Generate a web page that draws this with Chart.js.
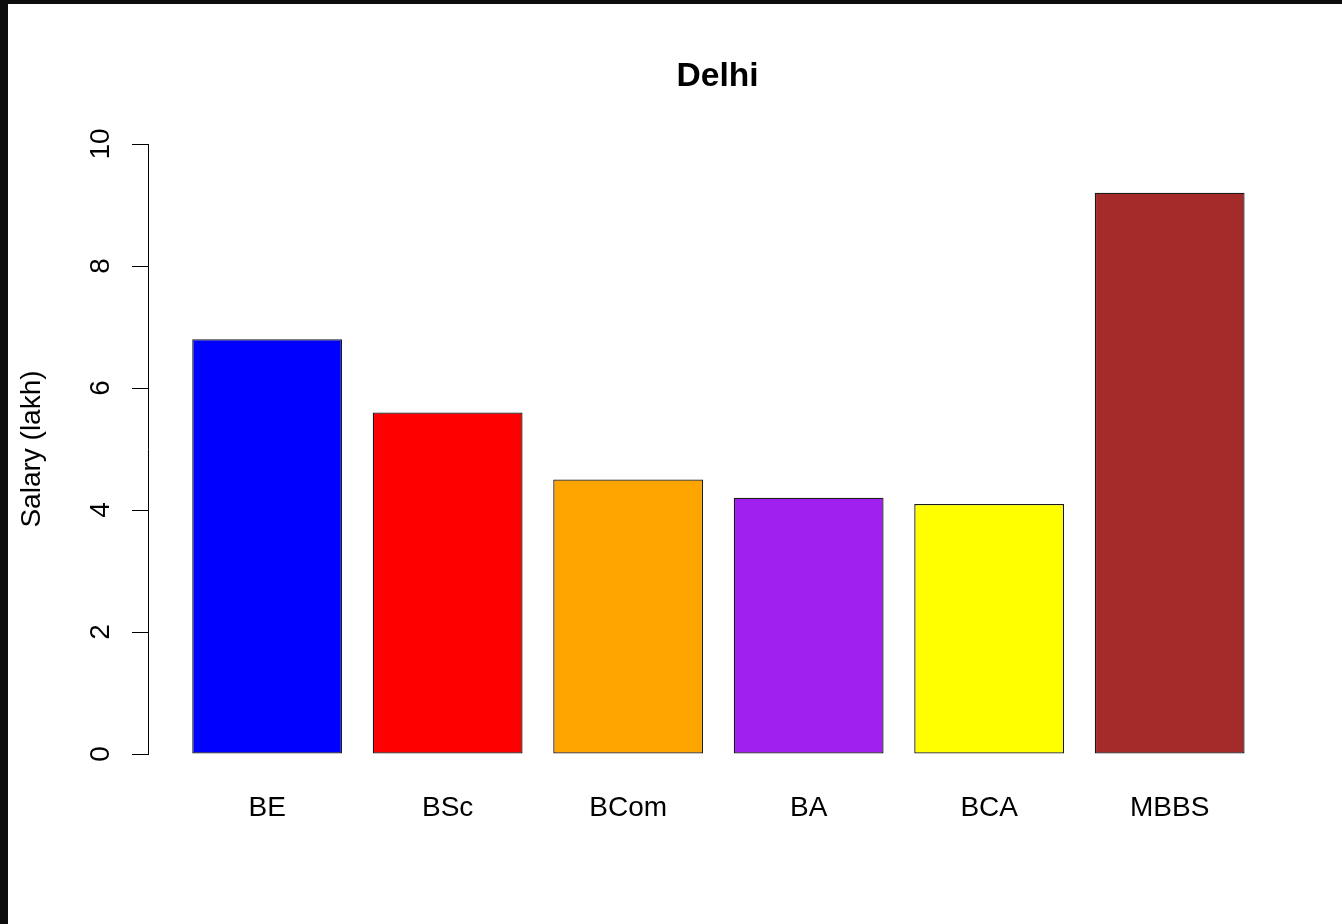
<!DOCTYPE html>
<html>
<head>
<meta charset="utf-8">
<script src="https://cdn.jsdelivr.net/npm/chart.js"></script>
<style>
    body {
        margin: 0;
        background: #0d0d0d;
        overflow: hidden;
    }
    #myChart {
        position: absolute;
        left: 8px;
        top: 4px;
        background: #ffffff;
    }
</style>
</head>
<body>
<canvas id="myChart" width="1334" height="920"></canvas>
<script>
const categories = ['BE', 'BSc', 'BCom', 'BA', 'BCA', 'MBBS'];
const salary = [6.8, 5.6, 4.5, 4.2, 4.1, 9.2];
const barColors = ['#0000ff', '#ff0000', '#ffa500', '#a020f0', '#ffff00', '#a52a2a'];
const yTicks = [0, 2, 4, 6, 8, 10];

const fontFamily = '"Liberation Sans", Arial, Helvetica, sans-serif';

Chart.defaults.font.family = fontFamily;
Chart.defaults.color = '#000000';

function renderChart() {
    const ctx = document.getElementById('myChart');

    new Chart(ctx, {
        type: 'bar',
        data: {
            datasets: [{
                label: 'Salary',
                data: salary.map((v, i) => ({ x: i, y: v })),
                backgroundColor: barColors,
                borderColor: '#1a1a1a',
                borderWidth: 1.3,
                borderSkipped: false,
                categoryPercentage: 1,
                barPercentage: 0.83
            }]
        },
        options: {
            responsive: false,
            animation: false,
            layout: {
                padding: { left: 0, right: 55, top: 0, bottom: 0 }
            },
            scales: {
                x: {
                    type: 'linear',
                    offset: false,
                    min: -0.66,
                    max: 5.65,
                    grid: { display: false, offset: false },
                    border: { display: false },
                    afterBuildTicks: (scale) => {
                        scale.ticks = categories.map((_, i) => ({ value: i }));
                    },
                    afterFit: (scale) => {
                        scale.height = 170;
                    },
                    ticks: {
                        autoSkip: false,
                        maxRotation: 0,
                        padding: 29,
                        font: { size: 28 },
                        callback: (value) => categories[value]
                    }
                },
                y: {
                    min: 0,
                    max: 10,
                    afterBuildTicks: (scale) => {
                        scale.ticks = yTicks.map(v => ({ value: v }));
                    },
                    afterFit: (scale) => {
                        scale.width = 140;
                    },
                    grid: {
                        drawOnChartArea: false,
                        drawTicks: true,
                        tickLength: 16,
                        color: '#000000',
                        lineWidth: 1
                    },
                    border: {
                        display: true,
                        color: '#000000',
                        width: 1
                    },
                    ticks: {
                        minRotation: 90,
                        maxRotation: 90,
                        crossAlign: 'center',
                        padding: 15,
                        font: { size: 28 }
                    },
                    title: {
                        display: true,
                        text: 'Salary (lakh)',
                        font: { size: 28 },
                        padding: { top: 7, bottom: 0 }
                    }
                }
            },
            plugins: {
                legend: { display: false },
                tooltip: { enabled: false },
                title: {
                    display: true,
                    text: 'Delhi',
                    fullSize: false,
                    color: '#000000',
                    font: { size: 33.6, weight: 'bold' },
                    padding: { top: 52.3, bottom: 47.4 }
                }
            }
        }
    });
}

document.addEventListener('DOMContentLoaded', () => {
    renderChart();
});
</script>
</body>
</html>
